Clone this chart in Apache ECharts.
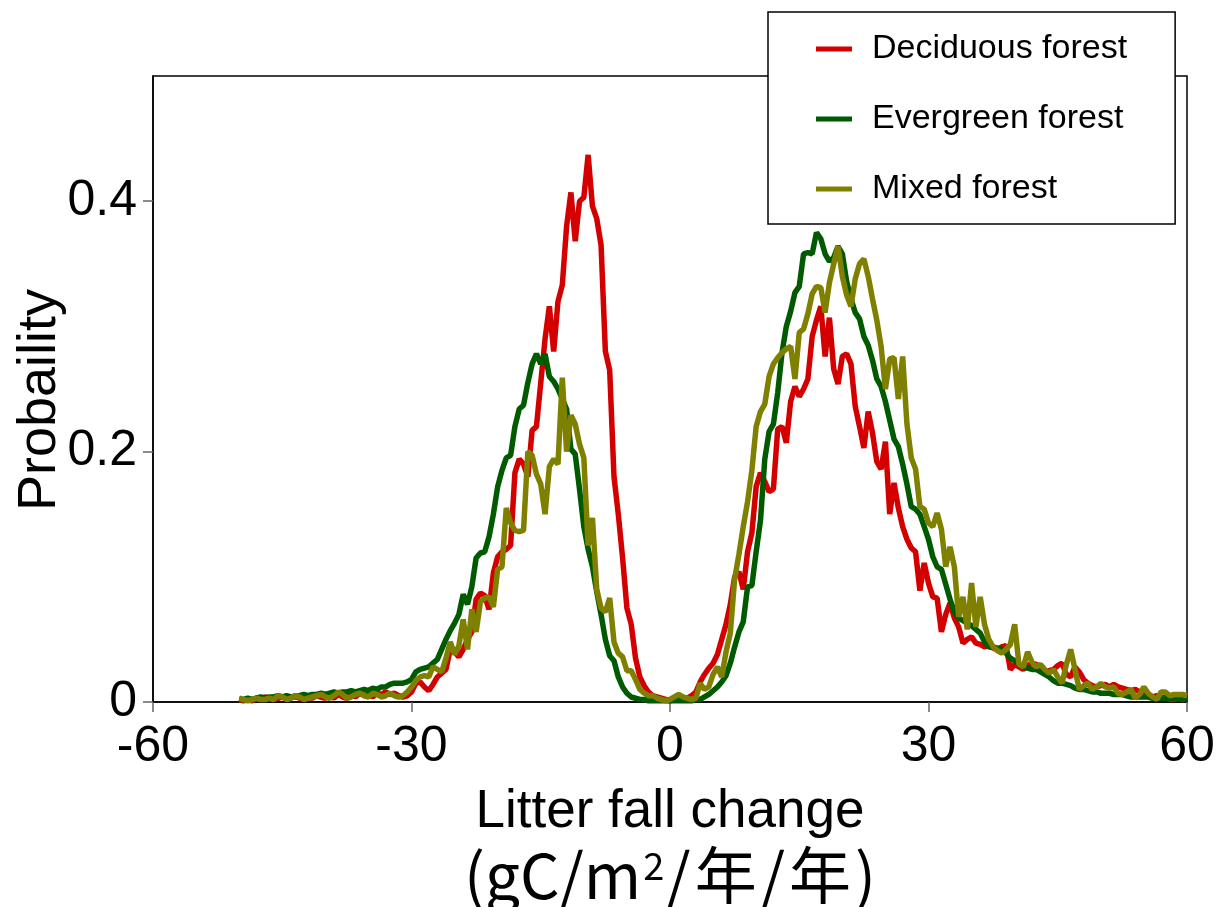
<!DOCTYPE html>
<html>
<head>
<meta charset="utf-8">
<script src="https://cdn.jsdelivr.net/npm/echarts@6/dist/echarts.min.js"></script>
<style>
  html, body { margin: 0; padding: 0; background: #fff; }
  #chart { width: 1217px; height: 907px; }
</style>
</head>
<body>
<div id="chart"></div>
<script>
// Probability of litter fall change per forest type, sampled every 0.5 gC/m²/年/年 from -50 to 60
const X_START = -50;
const X_STEP = 0.5;

const xTicks = [-60, -30, 0, 30, 60];
const yTicks = [0, 0.2, 0.4];

const seriesNames = ['Deciduous forest', 'Evergreen forest', 'Mixed forest'];
const seriesColors = ['#d40000', '#005a00', '#808000'];

const deciduous = [
  0.002,0.001,0.002,0.001,0.003,0.002,0.004,0.003,0.002,0.003,0.004,0.002,0.003,0.005,0.003,0.002,0.004,0.003,0.005,0.004,0.003,
  0.005,0.003,0.006,0.004,0.003,0.006,0.004,0.007,0.005,0.006,0.004,0.007,0.006,0.008,0.006,0.007,0.005,0.004,0.005,0.008,
  0.015,0.016,0.012,0.009,0.014,0.020,0.023,0.026,0.042,0.040,0.036,0.042,0.050,0.056,0.082,0.087,0.085,0.074,0.103,0.116,
  0.120,0.122,0.125,0.183,0.194,0.190,0.180,0.217,0.220,0.255,0.290,0.316,0.280,0.320,0.333,0.380,0.407,0.368,0.400,0.403,
  0.437,0.396,0.386,0.365,0.280,0.265,0.180,0.150,0.115,0.075,0.062,0.035,0.020,0.013,0.008,0.005,0.004,0.003,0.002,0.001,
  0.002,0.003,0.002,0.003,0.005,0.008,0.016,0.022,0.027,0.031,0.038,0.050,0.062,0.078,0.100,0.104,0.090,0.120,0.135,0.172,
  0.183,0.176,0.168,0.170,0.218,0.220,0.207,0.240,0.252,0.244,0.250,0.258,0.292,0.305,0.316,0.276,0.307,0.266,0.254,0.276,
  0.278,0.270,0.236,0.220,0.203,0.232,0.215,0.192,0.186,0.208,0.150,0.175,0.155,0.140,0.130,0.123,0.120,0.089,0.111,0.095,
  0.084,0.083,0.056,0.070,0.079,0.067,0.060,0.047,0.050,0.052,0.047,0.046,0.044,0.045,0.043,0.042,0.044,0.045,0.026,0.030,
  0.028,0.026,0.029,0.031,0.030,0.027,0.023,0.025,0.026,0.029,0.031,0.022,0.020,0.028,0.024,0.018,0.015,0.013,0.012,0.013,
  0.014,0.012,0.014,0.012,0.011,0.010,0.009,0.010,0.008,0.008,0.006,0.004,0.005,0.003,0.004,0.002,0.002,0.003,0.002,0.003
];

const evergreen = [
  0.002,0.002,0.003,0.002,0.003,0.004,0.003,0.004,0.004,0.005,0.004,0.005,0.004,0.004,0.005,0.006,0.005,0.006,0.006,0.007,0.006,
  0.007,0.008,0.007,0.008,0.008,0.009,0.008,0.009,0.010,0.009,0.011,0.010,0.012,0.012,0.014,0.015,0.015,0.015,0.016,0.018,
  0.024,0.026,0.027,0.028,0.031,0.034,0.042,0.050,0.057,0.063,0.070,0.086,0.078,0.092,0.115,0.119,0.120,0.132,0.150,0.172,
  0.185,0.195,0.197,0.220,0.234,0.237,0.255,0.270,0.278,0.270,0.278,0.260,0.256,0.250,0.242,0.234,0.202,0.198,0.170,0.140,
  0.122,0.108,0.088,0.070,0.050,0.037,0.033,0.020,0.012,0.007,0.004,0.003,0.002,0.002,0.001,0.001,0.001,0.001,0.001,0.001,
  0.001,0.001,0.001,0.001,0.001,0.002,0.002,0.004,0.006,0.009,0.012,0.016,0.021,0.031,0.044,0.056,0.064,0.092,0.093,0.120,
  0.145,0.194,0.216,0.222,0.247,0.279,0.300,0.312,0.327,0.332,0.358,0.359,0.358,0.375,0.370,0.358,0.352,0.355,0.364,0.358,
  0.336,0.322,0.311,0.306,0.292,0.285,0.273,0.258,0.252,0.240,0.225,0.210,0.204,0.190,0.174,0.156,0.154,0.150,0.140,0.130,
  0.116,0.108,0.106,0.094,0.082,0.072,0.067,0.065,0.063,0.061,0.058,0.055,0.048,0.044,0.044,0.043,0.042,0.039,0.035,0.033,
  0.030,0.028,0.027,0.026,0.026,0.024,0.022,0.020,0.017,0.015,0.015,0.014,0.013,0.011,0.010,0.010,0.009,0.008,0.008,0.007,
  0.007,0.007,0.006,0.006,0.006,0.005,0.004,0.004,0.004,0.004,0.004,0.003,0.003,0.003,0.003,0.003,0.003,0.003,0.003,0.003
];

const mixed = [
  0.003,0.002,0.001,0.002,0.003,0.002,0.002,0.003,0.002,0.005,0.004,0.002,0.003,0.005,0.004,0.002,0.003,0.004,0.005,0.006,0.004,
  0.003,0.005,0.008,0.006,0.003,0.004,0.006,0.007,0.005,0.004,0.007,0.006,0.004,0.005,0.007,0.005,0.004,0.005,0.008,0.012,
  0.017,0.020,0.021,0.020,0.028,0.026,0.024,0.035,0.048,0.038,0.045,0.066,0.042,0.074,0.056,0.080,0.083,0.084,0.076,0.106,
  0.108,0.155,0.143,0.137,0.136,0.137,0.200,0.197,0.182,0.174,0.150,0.188,0.194,0.190,0.259,0.200,0.229,0.222,0.206,0.195,
  0.125,0.147,0.090,0.075,0.072,0.083,0.048,0.039,0.036,0.025,0.025,0.018,0.010,0.007,0.005,0.005,0.003,0.002,0.001,0.002,
  0.004,0.006,0.004,0.003,0.002,0.003,0.015,0.010,0.012,0.022,0.028,0.020,0.040,0.055,0.098,0.118,0.140,0.160,0.185,0.220,
  0.232,0.238,0.260,0.270,0.275,0.279,0.282,0.284,0.258,0.295,0.298,0.310,0.326,0.332,0.331,0.311,0.335,0.350,0.364,0.340,
  0.325,0.316,0.338,0.350,0.354,0.340,0.322,0.305,0.284,0.250,0.274,0.275,0.242,0.276,0.222,0.195,0.186,0.156,0.154,0.143,
  0.140,0.151,0.138,0.108,0.124,0.108,0.068,0.084,0.058,0.095,0.060,0.084,0.062,0.050,0.044,0.041,0.039,0.042,0.046,0.062,
  0.030,0.028,0.040,0.032,0.028,0.030,0.026,0.023,0.026,0.020,0.015,0.030,0.042,0.026,0.010,0.013,0.015,0.010,0.012,0.015,
  0.012,0.011,0.012,0.007,0.006,0.008,0.010,0.003,0.006,0.012,0.007,0.004,0.002,0.008,0.008,0.005,0.006,0.006,0.006,0.005
];

const FONT = "'Liberation Sans', Arial, 'Noto Sans CJK JP', sans-serif";
const CJK_FONT = "'Noto Sans CJK JP', 'Liberation Sans', sans-serif";

function toPairs(values) {
  return values.map((v, i) => [X_START + i * X_STEP, v]);
}

const chart = echarts.init(document.getElementById('chart'), null, { renderer: 'canvas' });

const option = {
  animation: false,
  backgroundColor: '#fff',
  grid: {
    left: 153, right: 30, top: 76, bottom: 205,
    containLabel: false,
    outerBoundsMode: 'none',
    show: true, borderColor: '#000', borderWidth: 1.5, backgroundColor: 'transparent'
  },
  legend: {
    data: seriesNames,
    orient: 'vertical',
    left: 768, top: 12,
    padding: [20, 48, 18, 48],
    backgroundColor: '#fff',
    borderColor: '#000',
    borderWidth: 1.5,
    icon: 'rect',
    itemWidth: 36, itemHeight: 5,
    itemGap: 36,
    textStyle: { fontSize: 34, color: '#000', fontFamily: FONT, padding: [0, 0, 0, 15] }
  },
  xAxis: {
    type: 'value',
    min: xTicks[0], max: xTicks[xTicks.length - 1],
    interval: xTicks[1] - xTicks[0],
    axisLine: { show: true, onZero: false, lineStyle: { color: '#000', width: 1.5 } },
    axisTick: { show: true, length: 10, lineStyle: { color: '#666', width: 1.5 } },
    axisLabel: { color: '#000', fontSize: 50, margin: 20, fontFamily: FONT },
    splitLine: { show: false },
    name: '{l1|Litter fall change}\n{l2|(gC/m}{sup|2}{l2|/}{nen|年}{l2|/}{nen|年}{l2|)}',
    nameLocation: 'middle',
    nameGap: 71,
    nameTextStyle: {
      color: '#000', fontSize: 53, fontFamily: FONT, lineHeight: 70,
      rich: {
        l1: { fontSize: 53, fontFamily: FONT, color: '#000', lineHeight: 70 },
        l2: { fontSize: 62, fontFamily: CJK_FONT, color: '#000', lineHeight: 58 },
        nen: { fontSize: 62, fontFamily: CJK_FONT, color: '#000', lineHeight: 58, padding: [0, 4, 0, 4] },
        sup: { fontSize: 38, fontFamily: CJK_FONT, color: '#000', verticalAlign: 'top', lineHeight: 58, padding: [0, 2, 10, 2] }
      }
    }
  },
  yAxis: {
    type: 'value',
    min: yTicks[0], max: 0.5,
    interval: yTicks[1] - yTicks[0],
    axisLine: { show: true, onZero: false, lineStyle: { color: '#000', width: 1.5 } },
    axisTick: { show: true, length: 10, lineStyle: { color: '#666', width: 1.5 } },
    axisLabel: { color: '#000', fontSize: 50, margin: 16, fontFamily: FONT, showMaxLabel: false },
    splitLine: { show: false },
    name: 'Probaility',
    nameLocation: 'middle',
    nameMoveOverlap: false,
    nameGap: 86,
    nameTextStyle: { color: '#000', fontSize: 54, fontFamily: FONT, padding: [0, 22, 0, 0] }
  },
  series: [deciduous, evergreen, mixed].map((vals, k) => ({
    name: seriesNames[k],
    type: 'line',
    data: toPairs(vals),
    showSymbol: false,
    symbol: 'none',
    color: seriesColors[k],
    lineStyle: { width: 5.5, color: seriesColors[k] }
  }))
};

chart.setOption(option);
</script>
</body>
</html>
